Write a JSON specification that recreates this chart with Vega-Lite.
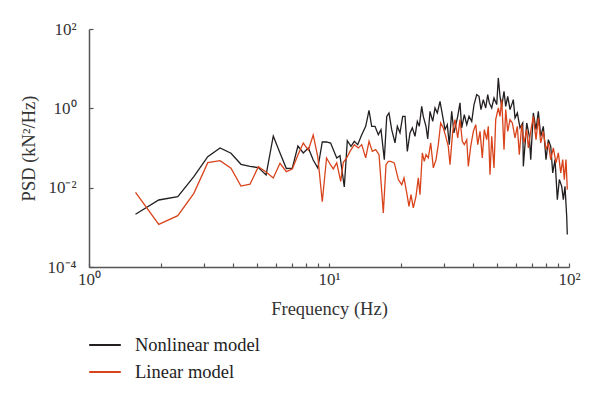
{
  "$schema": "https://vega.github.io/schema/vega-lite/v6.json",
  "width": 480,
  "height": 238,
  "autosize": {"type": "none"},
  "padding": {"left": 89, "top": 29, "right": 31, "bottom": 130},
  "background": "white",
  "config": {
    "font": "Liberation Serif",
    "view": {"stroke": null},
    "axis": {"grid": false, "domainColor": "#555555", "domainWidth": 1.5, "tickColor": "#555555", "tickWidth": 1.2, "labelColor": "#333333", "titleColor": "#333333", "labelFont": "Liberation Serif", "titleFont": "Liberation Serif", "titleFontWeight": "normal"}
  },
  "data": {"values": [
    {"model": "Nonlinear model", "freq": 1.5625, "psd": 0.00213},
    {"model": "Nonlinear model", "freq": 1.953, "psd": 0.00489},
    {"model": "Nonlinear model", "freq": 2.344, "psd": 0.00593},
    {"model": "Nonlinear model", "freq": 2.734, "psd": 0.0189},
    {"model": "Nonlinear model", "freq": 3.125, "psd": 0.0604},
    {"model": "Nonlinear model", "freq": 3.516, "psd": 0.1},
    {"model": "Nonlinear model", "freq": 3.906, "psd": 0.0736},
    {"model": "Nonlinear model", "freq": 4.297, "psd": 0.0388},
    {"model": "Nonlinear model", "freq": 4.688, "psd": 0.0342},
    {"model": "Nonlinear model", "freq": 5.078, "psd": 0.0321},
    {"model": "Nonlinear model", "freq": 5.469, "psd": 0.0209},
    {"model": "Nonlinear model", "freq": 5.859, "psd": 0.201},
    {"model": "Nonlinear model", "freq": 6.25, "psd": 0.0748},
    {"model": "Nonlinear model", "freq": 6.641, "psd": 0.0304},
    {"model": "Nonlinear model", "freq": 7.031, "psd": 0.031},
    {"model": "Nonlinear model", "freq": 7.422, "psd": 0.112},
    {"model": "Nonlinear model", "freq": 7.813, "psd": 0.0748},
    {"model": "Nonlinear model", "freq": 8.203, "psd": 0.1},
    {"model": "Nonlinear model", "freq": 8.594, "psd": 0.0499},
    {"model": "Nonlinear model", "freq": 8.984, "psd": 0.031},
    {"model": "Nonlinear model", "freq": 9.375, "psd": 0.1417},
    {"model": "Nonlinear model", "freq": 9.766, "psd": 0.143},
    {"model": "Nonlinear model", "freq": 10.156, "psd": 0.133},
    {"model": "Nonlinear model", "freq": 10.77, "psd": 0.0562},
    {"model": "Nonlinear model", "freq": 11.11, "psd": 0.0643},
    {"model": "Nonlinear model", "freq": 11.58, "psd": 0.0104},
    {"model": "Nonlinear model", "freq": 11.92, "psd": 0.153},
    {"model": "Nonlinear model", "freq": 12.35, "psd": 0.11},
    {"model": "Nonlinear model", "freq": 12.75, "psd": 0.147},
    {"model": "Nonlinear model", "freq": 13.17, "psd": 0.1216},
    {"model": "Nonlinear model", "freq": 13.69, "psd": 0.217},
    {"model": "Nonlinear model", "freq": 14.22, "psd": 0.352},
    {"model": "Nonlinear model", "freq": 14.68, "psd": 0.89},
    {"model": "Nonlinear model", "freq": 15.06, "psd": 0.352},
    {"model": "Nonlinear model", "freq": 15.55, "psd": 0.352},
    {"model": "Nonlinear model", "freq": 16.05, "psd": 0.217},
    {"model": "Nonlinear model", "freq": 16.47, "psd": 0.29},
    {"model": "Nonlinear model", "freq": 17.0, "psd": 0.0509},
    {"model": "Nonlinear model", "freq": 17.4, "psd": 0.628},
    {"model": "Nonlinear model", "freq": 17.78, "psd": 0.766},
    {"model": "Nonlinear model", "freq": 18.25, "psd": 0.29},
    {"model": "Nonlinear model", "freq": 18.84, "psd": 0.134},
    {"model": "Nonlinear model", "freq": 19.26, "psd": 0.352},
    {"model": "Nonlinear model", "freq": 19.76, "psd": 0.24},
    {"model": "Nonlinear model", "freq": 20.28, "psd": 0.628},
    {"model": "Nonlinear model", "freq": 20.74, "psd": 0.628},
    {"model": "Nonlinear model", "freq": 21.2, "psd": 0.0824},
    {"model": "Nonlinear model", "freq": 21.75, "psd": 0.24},
    {"model": "Nonlinear model", "freq": 22.24, "psd": 0.321},
    {"model": "Nonlinear model", "freq": 22.82, "psd": 0.197},
    {"model": "Nonlinear model", "freq": 23.33, "psd": 0.47},
    {"model": "Nonlinear model", "freq": 23.78, "psd": 0.352},
    {"model": "Nonlinear model", "freq": 24.34, "psd": 1.12},
    {"model": "Nonlinear model", "freq": 24.71, "psd": 0.628},
    {"model": "Nonlinear model", "freq": 25.36, "psd": 0.352},
    {"model": "Nonlinear model", "freq": 25.78, "psd": 0.169},
    {"model": "Nonlinear model", "freq": 26.36, "psd": 0.84},
    {"model": "Nonlinear model", "freq": 27.05, "psd": 0.47},
    {"model": "Nonlinear model", "freq": 27.65, "psd": 1.02},
    {"model": "Nonlinear model", "freq": 28.27, "psd": 0.766},
    {"model": "Nonlinear model", "freq": 29.01, "psd": 1.5},
    {"model": "Nonlinear model", "freq": 29.77, "psd": 0.628},
    {"model": "Nonlinear model", "freq": 30.43, "psd": 0.29},
    {"model": "Nonlinear model", "freq": 31.11, "psd": 0.388},
    {"model": "Nonlinear model", "freq": 31.71, "psd": 0.1216},
    {"model": "Nonlinear model", "freq": 32.45, "psd": 0.84},
    {"model": "Nonlinear model", "freq": 33.17, "psd": 0.24},
    {"model": "Nonlinear model", "freq": 34.38, "psd": 0.628},
    {"model": "Nonlinear model", "freq": 35.14, "psd": 1.37},
    {"model": "Nonlinear model", "freq": 35.72, "psd": 0.321},
    {"model": "Nonlinear model", "freq": 36.63, "psd": 0.694},
    {"model": "Nonlinear model", "freq": 37.49, "psd": 0.388},
    {"model": "Nonlinear model", "freq": 38.32, "psd": 0.628},
    {"model": "Nonlinear model", "freq": 39.33, "psd": 0.47},
    {"model": "Nonlinear model", "freq": 40.2, "psd": 1.24},
    {"model": "Nonlinear model", "freq": 41.26, "psd": 2.21},
    {"model": "Nonlinear model", "freq": 42.17, "psd": 2.01},
    {"model": "Nonlinear model", "freq": 42.98, "psd": 0.927},
    {"model": "Nonlinear model", "freq": 43.95, "psd": 1.66},
    {"model": "Nonlinear model", "freq": 44.97, "psd": 1.02},
    {"model": "Nonlinear model", "freq": 45.85, "psd": 2.21},
    {"model": "Nonlinear model", "freq": 46.55, "psd": 1.37},
    {"model": "Nonlinear model", "freq": 47.64, "psd": 1.02},
    {"model": "Nonlinear model", "freq": 48.7, "psd": 1.83},
    {"model": "Nonlinear model", "freq": 49.98, "psd": 1.24},
    {"model": "Nonlinear model", "freq": 50.75, "psd": 5.84},
    {"model": "Nonlinear model", "freq": 51.59, "psd": 2.01},
    {"model": "Nonlinear model", "freq": 52.44, "psd": 1.12},
    {"model": "Nonlinear model", "freq": 53.61, "psd": 2.68},
    {"model": "Nonlinear model", "freq": 54.49, "psd": 1.12},
    {"model": "Nonlinear model", "freq": 55.55, "psd": 2.01},
    {"model": "Nonlinear model", "freq": 56.79, "psd": 0.927},
    {"model": "Nonlinear model", "freq": 58.06, "psd": 1.37},
    {"model": "Nonlinear model", "freq": 58.61, "psd": 1.66},
    {"model": "Nonlinear model", "freq": 59.57, "psd": 0.573},
    {"model": "Nonlinear model", "freq": 60.91, "psd": 0.766},
    {"model": "Nonlinear model", "freq": 62.5, "psd": 0.321},
    {"model": "Nonlinear model", "freq": 64.15, "psd": 0.428},
    {"model": "Nonlinear model", "freq": 64.52, "psd": 0.0345},
    {"model": "Nonlinear model", "freq": 66.66, "psd": 0.428},
    {"model": "Nonlinear model", "freq": 68.34, "psd": 0.197},
    {"model": "Nonlinear model", "freq": 69.27, "psd": 0.0509},
    {"model": "Nonlinear model", "freq": 71.02, "psd": 0.766},
    {"model": "Nonlinear model", "freq": 72.88, "psd": 0.29},
    {"model": "Nonlinear model", "freq": 74.51, "psd": 0.84},
    {"model": "Nonlinear model", "freq": 76.24, "psd": 0.197},
    {"model": "Nonlinear model", "freq": 78.16, "psd": 0.352},
    {"model": "Nonlinear model", "freq": 80.22, "psd": 0.0509},
    {"model": "Nonlinear model", "freq": 82.02, "psd": 0.162},
    {"model": "Nonlinear model", "freq": 83.93, "psd": 0.11},
    {"model": "Nonlinear model", "freq": 85.55, "psd": 0.0235},
    {"model": "Nonlinear model", "freq": 87.46, "psd": 0.0509},
    {"model": "Nonlinear model", "freq": 89.42, "psd": 0.005},
    {"model": "Nonlinear model", "freq": 91.14, "psd": 0.016},
    {"model": "Nonlinear model", "freq": 93.26, "psd": 0.0108},
    {"model": "Nonlinear model", "freq": 94.7, "psd": 0.005},
    {"model": "Nonlinear model", "freq": 96.23, "psd": 0.0108},
    {"model": "Nonlinear model", "freq": 97.81, "psd": 0.0019},
    {"model": "Nonlinear model", "freq": 98.38, "psd": 0.000656},
    {"model": "Linear model", "freq": 1.5625, "psd": 0.00764},
    {"model": "Linear model", "freq": 1.953, "psd": 0.00119},
    {"model": "Linear model", "freq": 2.344, "psd": 0.00197},
    {"model": "Linear model", "freq": 2.734, "psd": 0.00721},
    {"model": "Linear model", "freq": 3.125, "psd": 0.0427},
    {"model": "Linear model", "freq": 3.516, "psd": 0.0479},
    {"model": "Linear model", "freq": 3.906, "psd": 0.0308},
    {"model": "Linear model", "freq": 4.297, "psd": 0.011},
    {"model": "Linear model", "freq": 4.688, "psd": 0.0122},
    {"model": "Linear model", "freq": 5.078, "psd": 0.0338},
    {"model": "Linear model", "freq": 5.469, "psd": 0.0248},
    {"model": "Linear model", "freq": 5.859, "psd": 0.0175},
    {"model": "Linear model", "freq": 6.25, "psd": 0.0411},
    {"model": "Linear model", "freq": 6.641, "psd": 0.0254},
    {"model": "Linear model", "freq": 7.031, "psd": 0.0296},
    {"model": "Linear model", "freq": 7.422, "psd": 0.0667},
    {"model": "Linear model", "freq": 7.813, "psd": 0.1337},
    {"model": "Linear model", "freq": 8.203, "psd": 0.089},
    {"model": "Linear model", "freq": 8.594, "psd": 0.213},
    {"model": "Linear model", "freq": 8.984, "psd": 0.0593},
    {"model": "Linear model", "freq": 9.375, "psd": 0.00443},
    {"model": "Linear model", "freq": 9.766, "psd": 0.056},
    {"model": "Linear model", "freq": 10.156, "psd": 0.0373},
    {"model": "Linear model", "freq": 10.42, "psd": 0.0297},
    {"model": "Linear model", "freq": 10.77, "psd": 0.0421},
    {"model": "Linear model", "freq": 11.19, "psd": 0.0144},
    {"model": "Linear model", "freq": 11.47, "psd": 0.0435},
    {"model": "Linear model", "freq": 11.85, "psd": 0.0562},
    {"model": "Linear model", "freq": 12.23, "psd": 0.0824},
    {"model": "Linear model", "freq": 12.75, "psd": 0.1216},
    {"model": "Linear model", "freq": 13.25, "psd": 0.1005},
    {"model": "Linear model", "freq": 13.69, "psd": 0.1216},
    {"model": "Linear model", "freq": 14.22, "psd": 0.0562},
    {"model": "Linear model", "freq": 14.68, "psd": 0.147},
    {"model": "Linear model", "freq": 15.15, "psd": 0.0824},
    {"model": "Linear model", "freq": 15.65, "psd": 0.091},
    {"model": "Linear model", "freq": 16.16, "psd": 0.068},
    {"model": "Linear model", "freq": 16.84, "psd": 0.00231},
    {"model": "Linear model", "freq": 17.28, "psd": 0.0381},
    {"model": "Linear model", "freq": 17.67, "psd": 0.0461},
    {"model": "Linear model", "freq": 18.07, "psd": 0.0461},
    {"model": "Linear model", "freq": 18.71, "psd": 0.0421},
    {"model": "Linear model", "freq": 19.45, "psd": 0.016},
    {"model": "Linear model", "freq": 20.09, "psd": 0.0119},
    {"model": "Linear model", "freq": 20.54, "psd": 0.0176},
    {"model": "Linear model", "freq": 21.08, "psd": 0.00736},
    {"model": "Linear model", "freq": 21.54, "psd": 0.00339},
    {"model": "Linear model", "freq": 21.96, "psd": 0.00668},
    {"model": "Linear model", "freq": 22.45, "psd": 0.00308},
    {"model": "Linear model", "freq": 23.04, "psd": 0.00605},
    {"model": "Linear model", "freq": 23.56, "psd": 0.0176},
    {"model": "Linear model", "freq": 23.94, "psd": 0.00668},
    {"model": "Linear model", "freq": 24.48, "psd": 0.0751},
    {"model": "Linear model", "freq": 24.95, "psd": 0.0461},
    {"model": "Linear model", "freq": 25.36, "psd": 0.068},
    {"model": "Linear model", "freq": 25.93, "psd": 0.0562},
    {"model": "Linear model", "freq": 26.54, "psd": 0.134},
    {"model": "Linear model", "freq": 27.21, "psd": 0.0315},
    {"model": "Linear model", "freq": 27.92, "psd": 0.0509},
    {"model": "Linear model", "freq": 28.54, "psd": 0.1216},
    {"model": "Linear model", "freq": 29.2, "psd": 0.428},
    {"model": "Linear model", "freq": 29.94, "psd": 0.321},
    {"model": "Linear model", "freq": 30.64, "psd": 0.197},
    {"model": "Linear model", "freq": 31.41, "psd": 0.11},
    {"model": "Linear model", "freq": 31.93, "psd": 0.0381},
    {"model": "Linear model", "freq": 32.77, "psd": 0.263},
    {"model": "Linear model", "freq": 33.5, "psd": 0.519},
    {"model": "Linear model", "freq": 34.38, "psd": 0.179},
    {"model": "Linear model", "freq": 35.14, "psd": 0.519},
    {"model": "Linear model", "freq": 35.93, "psd": 0.147},
    {"model": "Linear model", "freq": 36.63, "psd": 0.1216},
    {"model": "Linear model", "freq": 37.49, "psd": 0.162},
    {"model": "Linear model", "freq": 38.06, "psd": 0.0345},
    {"model": "Linear model", "freq": 38.95, "psd": 0.11},
    {"model": "Linear model", "freq": 39.94, "psd": 0.263},
    {"model": "Linear model", "freq": 40.87, "psd": 0.388},
    {"model": "Linear model", "freq": 41.66, "psd": 0.1216},
    {"model": "Linear model", "freq": 42.58, "psd": 0.263},
    {"model": "Linear model", "freq": 43.53, "psd": 0.0562},
    {"model": "Linear model", "freq": 44.37, "psd": 0.29},
    {"model": "Linear model", "freq": 45.41, "psd": 0.162},
    {"model": "Linear model", "freq": 46.11, "psd": 0.352},
    {"model": "Linear model", "freq": 46.86, "psd": 0.0213},
    {"model": "Linear model", "freq": 47.64, "psd": 0.197},
    {"model": "Linear model", "freq": 48.7, "psd": 0.0315},
    {"model": "Linear model", "freq": 49.5, "psd": 0.519},
    {"model": "Linear model", "freq": 50.75, "psd": 1.02},
    {"model": "Linear model", "freq": 51.59, "psd": 0.628},
    {"model": "Linear model", "freq": 52.44, "psd": 1.66},
    {"model": "Linear model", "freq": 53.61, "psd": 0.091},
    {"model": "Linear model", "freq": 54.49, "psd": 0.927},
    {"model": "Linear model", "freq": 55.55, "psd": 0.263},
    {"model": "Linear model", "freq": 56.79, "psd": 0.519},
    {"model": "Linear model", "freq": 58.06, "psd": 0.428},
    {"model": "Linear model", "freq": 59.57, "psd": 0.179},
    {"model": "Linear model", "freq": 60.91, "psd": 0.352},
    {"model": "Linear model", "freq": 62.08, "psd": 0.068},
    {"model": "Linear model", "freq": 63.53, "psd": 0.388},
    {"model": "Linear model", "freq": 64.95, "psd": 0.134},
    {"model": "Linear model", "freq": 66.66, "psd": 0.29},
    {"model": "Linear model", "freq": 67.69, "psd": 0.1005},
    {"model": "Linear model", "freq": 69.27, "psd": 0.263},
    {"model": "Linear model", "freq": 71.02, "psd": 0.628},
    {"model": "Linear model", "freq": 72.88, "psd": 0.162},
    {"model": "Linear model", "freq": 74.51, "psd": 0.573},
    {"model": "Linear model", "freq": 76.24, "psd": 0.134},
    {"model": "Linear model", "freq": 78.16, "psd": 0.263},
    {"model": "Linear model", "freq": 80.22, "psd": 0.091},
    {"model": "Linear model", "freq": 82.02, "psd": 0.134},
    {"model": "Linear model", "freq": 83.93, "psd": 0.0509},
    {"model": "Linear model", "freq": 86.04, "psd": 0.1005},
    {"model": "Linear model", "freq": 88.29, "psd": 0.0421},
    {"model": "Linear model", "freq": 90.27, "psd": 0.0751},
    {"model": "Linear model", "freq": 92.37, "psd": 0.0235},
    {"model": "Linear model", "freq": 94.15, "psd": 0.0509},
    {"model": "Linear model", "freq": 95.59, "psd": 0.016},
    {"model": "Linear model", "freq": 97.16, "psd": 0.0509},
    {"model": "Linear model", "freq": 98.38, "psd": 0.00893}
  ]},
  "mark": {"type": "line", "strokeWidth": 1.3, "clip": true},
  "encoding": {
    "x": {
      "field": "freq", "type": "quantitative",
      "scale": {"type": "log", "domain": [1, 100], "nice": false},
      "axis": {
        "title": "Frequency (Hz)", "titleFontSize": 18.5, "titlePadding": 12,
        "values": [1, 2, 3, 4, 5, 6, 7, 8, 9, 10, 20, 30, 40, 50, 60, 70, 80, 90, 100],
        "labelExpr": "datum.value < 1.5 ? '10⁰' : (datum.value > 9.5 && datum.value < 10.5) ? '10¹' : datum.value > 99 ? '10²' : ''",
        "labelFontSize": 17, "labelOverlap": false, "labelFlush": false,
        "tickSize": -4, "labelPadding": 8
      }
    },
    "y": {
      "field": "psd", "type": "quantitative",
      "scale": {"type": "log", "domain": [0.0001, 100], "nice": false},
      "axis": {
        "title": "PSD (kN²/Hz)", "titleFontSize": 18.5, "titlePadding": 9,
        "values": [0.0001, 0.01, 1, 100],
        "labelExpr": "datum.value < 0.001 ? '10⁻⁴' : datum.value < 0.1 ? '10⁻²' : datum.value < 10 ? '10⁰' : '10²'",
        "labelFontSize": 17, "labelOverlap": false, "labelFlush": false,
        "tickSize": -4, "labelPadding": 17
      }
    },
    "color": {
      "field": "model", "type": "nominal",
      "scale": {"domain": ["Nonlinear model", "Linear model"], "range": ["#231f20", "#d9441c"]},
      "legend": {
        "orient": "none", "legendX": -1, "legendY": 299, "title": null,
        "symbolType": "stroke", "symbolSize": 1000, "symbolStrokeWidth": 2,
        "labelFontSize": 18.5, "labelColor": "#222222", "labelOffset": 13, "padding": 0, "rowPadding": -7
      }
    }
  }
}
